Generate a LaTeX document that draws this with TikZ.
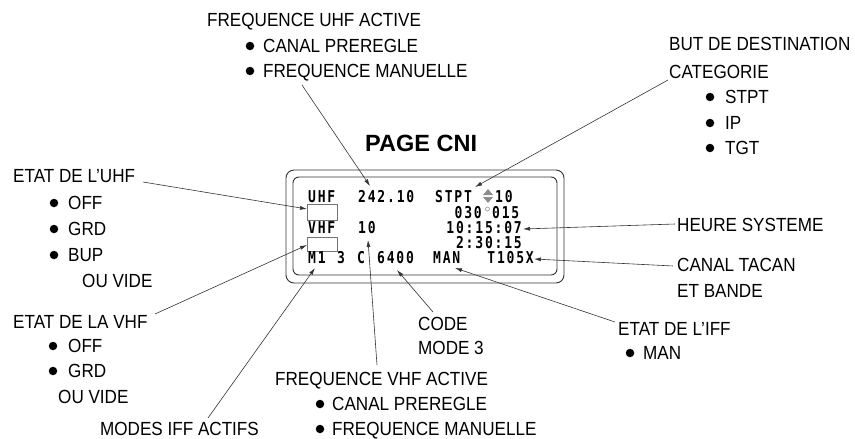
\documentclass[tikz,border=0pt]{standalone}
\usepackage{fontspec}
\setmainfont{Liberation Sans}
\newfontfamily\labfont[FakeStretch=0.9]{Liberation Sans}
\newfontfamily\dispfont[FakeStretch=0.8,LetterSpace=11]{DejaVu Sans Mono}
\usetikzlibrary{arrows.meta}
\begin{document}
\begin{tikzpicture}[x=1pt,y=-1pt,
  lab/.style={anchor=base west,inner sep=0pt,font=\labfont\fontsize{19}{22}\selectfont},
  disp/.style={anchor=base west,inner sep=0pt,font=\dispfont\bfseries\fontsize{16.3}{17}\selectfont},
  dispr/.style={disp,anchor=base east},
  dot/.style={circle,fill=black,inner sep=0pt,minimum size=8.5pt},
  conn/.style={draw=black!80,line width=0.6pt,-{Latex[length=7pt,width=4pt]}},
  frame/.style={draw=black!80,line width=0.9pt},
  ibox/.style={draw=black!55,line width=0.8pt}
  ]
\useasboundingbox (0,0) rectangle (855,439);

% title
\node[anchor=base west,inner sep=0pt,font=\bfseries\fontsize{23.5}{26}\selectfont] (title) at (365,151) {PAGE CNI};

% display frame
\draw[frame,rounded corners=8pt] (286,170) rectangle (564,283);
\draw[frame,rounded corners=6pt] (293,177) rectangle (557,275);
\draw[ibox] (307,204) rectangle (337,220);
\draw[ibox] (307,237) rectangle (337,251);

% display texts
\node[disp] (uhf) at (308,202) {UHF};
\node[disp] (f242) at (358,202) {242.10};
\node[disp] (stpt) at (435,202) {STPT};
\fill[black!45] (483,195) -- (488,189) -- (493,195) -- cycle;
\fill[black!45] (483,197) -- (488,203) -- (493,197) -- cycle;
\node[disp] (n10) at (495,202) {10};
\node[dispr] (c030) at (482,218) {030};
\draw[black!45,line width=0.6pt] (487.5,209) circle (2pt);
\node[disp] (c015) at (492,218) {015};
\node[disp] (vhf) at (308,233) {VHF};
\node[disp] (v10) at (358,233) {10};
\node[dispr] (time) at (522,233) {10:15:07};
\node[dispr] (elap) at (522,248) {2:30:15};
\node[disp] (m1) at (308,263) {M1};
\node[disp] (m3) at (337,263) {3};
\node[disp] (mc) at (357,263) {C};
\node[disp] (code) at (377,263) {6400};
\node[disp] (man) at (433,263) {MAN};
\node[dispr] (tacan) at (534,263) {T105X};

% top labels
\node[lab] (fuhf) at (207,27) {FREQUENCE UHF ACTIVE};
\node[dot] (b1) at (250,46) {};
\node[lab] (fuhf1) at (263,52) {CANAL PREREGLE};
\node[dot] (b2) at (250,71) {};
\node[lab] (fuhf2) at (263,77) {FREQUENCE MANUELLE};

\node[lab] (but) at (669,50) {BUT DE DESTINATION};
\node[lab] (cat) at (669,78) {CATEGORIE};
\node[dot] (b3) at (710,97) {};
\node[lab] (c1) at (725,103) {STPT};
\node[dot] (b4) at (710,123) {};
\node[lab] (c2) at (725,129) {IP};
\node[dot] (b5) at (710,148) {};
\node[lab] (c3) at (725,154) {TGT};

% left UHF
\node[lab] (euhf) at (13,182) {ETAT DE L’UHF};
\node[dot] (b6) at (54,203) {};
\node[lab] (u1) at (68,209) {OFF};
\node[dot] (b7) at (54,229) {};
\node[lab] (u2) at (68,235) {GRD};
\node[dot] (b8) at (54,255) {};
\node[lab] (u3) at (68,261) {BUP};
\node[lab] (u4) at (82,287) {OU VIDE};

% left VHF
\node[lab] (evhf) at (13,328) {ETAT DE LA VHF};
\node[dot] (b9) at (53,346) {};
\node[lab] (v1) at (68,352) {OFF};
\node[dot] (b10) at (53,371) {};
\node[lab] (v2) at (68,377) {GRD};
\node[lab] (v3) at (58,403) {OU VIDE};
\node[lab] (modes) at (100,435) {MODES IFF ACTIFS};

% bottom centre
\node[lab] (cd1) at (418,330) {CODE};
\node[lab] (cd2) at (418,354) {MODE 3};
\node[lab] (fvhf) at (275,385) {FREQUENCE VHF ACTIVE};
\node[dot] (b11) at (320,404) {};
\node[lab] (fv1) at (332,410) {CANAL PREREGLE};
\node[dot] (b12) at (320,429) {};
\node[lab] (fv2) at (332,435) {FREQUENCE MANUELLE};

% right
\node[lab] (heure) at (677,231) {HEURE SYSTEME};
\node[lab] (tac1) at (677,271) {CANAL TACAN};
\node[lab] (tac2) at (677,297) {ET BANDE};
\node[lab] (iff) at (618,335) {ETAT DE L’IFF};
\node[dot] (b13) at (630,353) {};
\node[lab] (iff1) at (643,359) {MAN};

% connector ends
\coordinate (t1) at (302,85);   \coordinate (h1) at (370,186);
\coordinate (t2) at (668,80);   \coordinate (h2) at (475,187);
\coordinate (t3) at (143,182);  \coordinate (h3) at (307,209);
\coordinate (t4) at (155,314);  \coordinate (h4) at (307,245);
\coordinate (t5) at (208,418);  \coordinate (h5) at (315,268);
\coordinate (t6) at (377,365);  \coordinate (h6) at (368,240);
\coordinate (t7) at (433,312);  \coordinate (h7) at (397,270);
\coordinate (t8) at (615,322);  \coordinate (h8) at (455,268);
\coordinate (t9) at (675,224);  \coordinate (h9) at (523,229);
\coordinate (t10) at (673,266); \coordinate (h10) at (534,259);

\foreach \i in {1,...,10} {\draw[conn] (t\i) -- (h\i);}
\end{tikzpicture}
\end{document}
